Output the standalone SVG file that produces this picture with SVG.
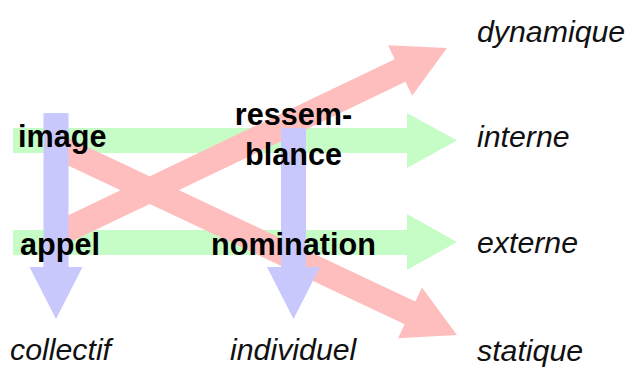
<svg xmlns="http://www.w3.org/2000/svg" width="631" height="367" viewBox="0 0 631 367">
<style>
.g{fill:#c6fcc6}
.r{fill:#ffbebe}
.b{fill:#c8c8fd}
.bold{font-family:"Liberation Sans",Arial,sans-serif;font-size:30.6px;font-weight:bold;fill:#000}
.it{font-family:"Liberation Sans",Arial,sans-serif;font-size:30.3px;font-style:italic;fill:#111}
</style>
<rect width="631" height="367" fill="#fff"/>
<g id="connectors">
  <g id="green-arrows">
    <polygon class="g" points="13,128 407,128 407,113 457,140.5 407,168 407,153 13,153"/>
    <polygon class="g" points="13,230 407,230 407,214 457,242 407,270 407,255 13,255"/>
  </g>
  <g id="red-arrows">
    <g transform="translate(447,48) rotate(-25.56)">
      <polygon class="r" points="-433,-12.5 -52,-12.5 -52,-28 0,0 -52,28 -52,12.5 -433,12.5"/>
    </g>
    <g transform="translate(457,335) rotate(25.24)">
      <polygon class="r" points="-443,-12.5 -52,-12.5 -52,-28 0,0 -52,28 -52,12.5 -443,12.5"/>
    </g>
  </g>
  <g id="blue-arrows">
    <polygon class="b" points="43.5,113 68.5,113 68.5,267 82.5,267 56,319 29.5,267 43.5,267"/>
    <polygon class="b" points="281,128 306,128 306,267 320,267 293.5,319 267,267 281,267"/>
  </g>
</g>
<g id="image"><text class="bold" x="18" y="147">image</text></g>
<g id="ressemblance"><text class="bold" text-anchor="middle" x="293.5" y="125">ressem-</text><text class="bold" text-anchor="middle" x="293.5" y="165">blance</text></g>
<g id="appel"><text class="bold" x="20" y="255">appel</text></g>
<g id="nomination"><text class="bold" x="211" y="255">nomination</text></g>
<g id="dynamique"><text class="it" x="477" y="42">dynamique</text></g>
<g id="interne"><text class="it" x="477" y="147">interne</text></g>
<g id="externe"><text class="it" x="477" y="253">externe</text></g>
<g id="statique"><text class="it" x="477" y="361">statique</text></g>
<g id="collectif"><text class="it" x="10" y="360">collectif</text></g>
<g id="individuel"><text class="it" x="230" y="360">individuel</text></g>
</svg>
